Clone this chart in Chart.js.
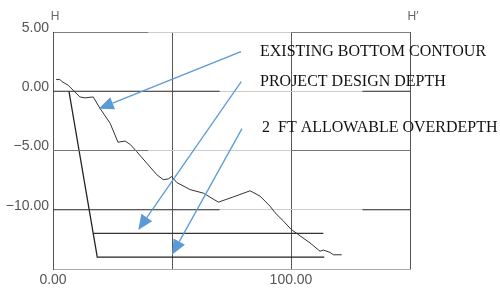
<!DOCTYPE html>
<html>
<head>
<meta charset="utf-8">
<script src="https://cdn.jsdelivr.net/npm/chart.js@4"></script>
<style>
  body { margin: 0; background: #fff; }
  canvas { display: block; }
</style>
</head>
<body>
<canvas id="profile" width="500" height="291"></canvas>
<script>
// Existing bottom contour (station, elevation)
const contourX = [1.3, 2.9, 3.6, 6.4, 9.2, 11.3, 13.4, 16.9, 19.7, 24, 27.3, 30.3, 32.5, 35.2, 39.4, 43.6, 46.3, 48.4, 49.9, 52, 57.6, 63.2, 69.5, 76, 82.8, 87, 91.2, 93.3, 96.8, 100, 103.8, 108, 112.2, 113.6, 116.4, 117.8, 121.3];
const contourY = [1.0, 1.0, 0.84, 0.5, -0.06, -0.48, -0.56, -0.48, -1.43, -2.7, -4.3, -4.2, -4.5, -5.1, -6.07, -7.04, -7.46, -7.4, -7.2, -7.7, -8.3, -8.6, -9.36, -8.9, -8.4, -8.85, -9.7, -10.25, -10.95, -11.65, -12.2, -12.8, -13.5, -13.4, -13.6, -13.8, -13.8];

// Overdepth template (side slope + bottom)
const overdepthX = [6.7, 18.6, 114];
const overdepthY = [0, -14, -14];

// Project design depth
const designX = [17.1, 113.6];
const designY = [-12, -12];

// dark pieces of the horizontal rules: [elevation, from, to]
const ruleSegments = [
  [5, 0, 40], [5, 100, 150],
  [0, 0, 70], [0, 130, 150],
  [-5, 0, 40], [-5, 100, 150],
  [-10, 0, 70], [-10, 130, 150]
];

// callouts: label, arrow start (station, elev), arrow tip (station, elev)
const callouts = [
  ["EXISTING BOTTOM CONTOUR", [79, 3.35], [19.2, -1.48]],
  ["PROJECT DESIGN DEPTH", [79.1, 0.81], [35.8, -11.7]],
  ["2  FT ALLOWABLE OVERDEPTH", [79.4, -3.15], [50, -13.8]]
];
const calloutTextY = [52, 82, 128];

const yTicks = [5, 0, -5, -10];
const xTickLabels = { 0: "0.00", 100: "100.00" };

function pts(xs, ys) {
  return xs.map((x, i) => ({ x: x, y: ys[i] }));
}

const datasets = [];
ruleSegments.forEach(s => {
  datasets.push({
    data: [{ x: s[1], y: s[0] }, { x: s[2], y: s[0] }],
    borderColor: s[0] === -5 ? "#777" : "#333",
    borderWidth: 1.2,
    pointRadius: 0
  });
});
datasets.push({ data: pts(overdepthX, overdepthY), borderColor: "#222", borderWidth: 1.3, pointRadius: 0 });
datasets.push({ data: pts(designX, designY), borderColor: "#333", borderWidth: 1.3, pointRadius: 0 });
datasets.push({ data: pts(contourX, contourY), borderColor: "#333", borderWidth: 1, pointRadius: 0, tension: 0 });

// arrows, text and H labels
const overlay = {
  id: "overlay",
  afterDatasetsDraw(chart) {
    const ctx = chart.ctx;
    const xs = chart.scales.x, ys = chart.scales.y;
    ctx.save();
    ctx.strokeStyle = "#5b9bd5";
    ctx.fillStyle = "#5b9bd5";
    ctx.lineWidth = 1.3;
    callouts.forEach(c => {
      const x0 = xs.getPixelForValue(c[1][0]), y0 = ys.getPixelForValue(c[1][1]);
      const x1 = xs.getPixelForValue(c[2][0]), y1 = ys.getPixelForValue(c[2][1]);
      const ang = Math.atan2(y1 - y0, x1 - x0);
      const len = 15, half = 6.5;
      const bx = x1 - len * Math.cos(ang), by = y1 - len * Math.sin(ang);
      ctx.beginPath();
      ctx.moveTo(x0, y0);
      ctx.lineTo(bx, by);
      ctx.stroke();
      ctx.beginPath();
      ctx.moveTo(x1, y1);
      ctx.lineTo(bx + half * Math.sin(ang), by - half * Math.cos(ang));
      ctx.lineTo(bx - half * Math.sin(ang), by + half * Math.cos(ang));
      ctx.closePath();
      ctx.fill();
    });

    ctx.fillStyle = "#111";
    ctx.font = "16px 'Liberation Serif'";
    ctx.textBaseline = "middle";
    ctx.textAlign = "left";
    callouts.forEach((c, i) => {
      ctx.fillText(c[0], i === 2 ? 262 : 260, calloutTextY[i]);
    });

    ctx.fillStyle = "#666";
    ctx.font = "12px 'Liberation Sans'";
    ctx.textAlign = "center";
    ctx.fillText("H", 55, 17);
    ctx.fillText("H\u2032", 413, 17);
    ctx.restore();
  }
};

new Chart(document.getElementById("profile"), {
  type: "line",
  data: { datasets: datasets },
  options: {
    responsive: false,
    animation: false,
    devicePixelRatio: 1,
    layout: { padding: { top: 32, right: 90, left: 0, bottom: 0 } },
    plugins: { legend: { display: false }, tooltip: { enabled: false } },
    scales: {
      x: {
        type: "linear",
        min: 0,
        max: 150,
        afterFit: s => { s.height = 22; },
        grid: { color: "#555", lineWidth: 1, drawTicks: false },
        border: { color: "#aaa" },
        ticks: {
          stepSize: 50,
          padding: 3,
          maxRotation: 0,
          autoSkip: false,
          color: "#555",
          font: { family: "'Liberation Sans'", size: 14 },
          callback: v => xTickLabels[v] || ""
        }
      },
      y: {
        type: "linear",
        min: -15,
        max: 5,
        afterFit: s => { s.width = 53; },
        grid: { color: "#ccc", lineWidth: 1, drawTicks: false },
        border: { color: "#555" },
        ticks: {
          stepSize: 5,
          padding: 4,
          labelOffset: -4,
          color: "#555",
          font: { family: "'Liberation Sans'", size: 14 },
          callback: v => yTicks.includes(v) ? (v < 0 ? "\u2212" + Math.abs(v).toFixed(2) : v.toFixed(2)) : ""
        }
      }
    }
  },
  plugins: [overlay]
});
</script>
</body>
</html>
